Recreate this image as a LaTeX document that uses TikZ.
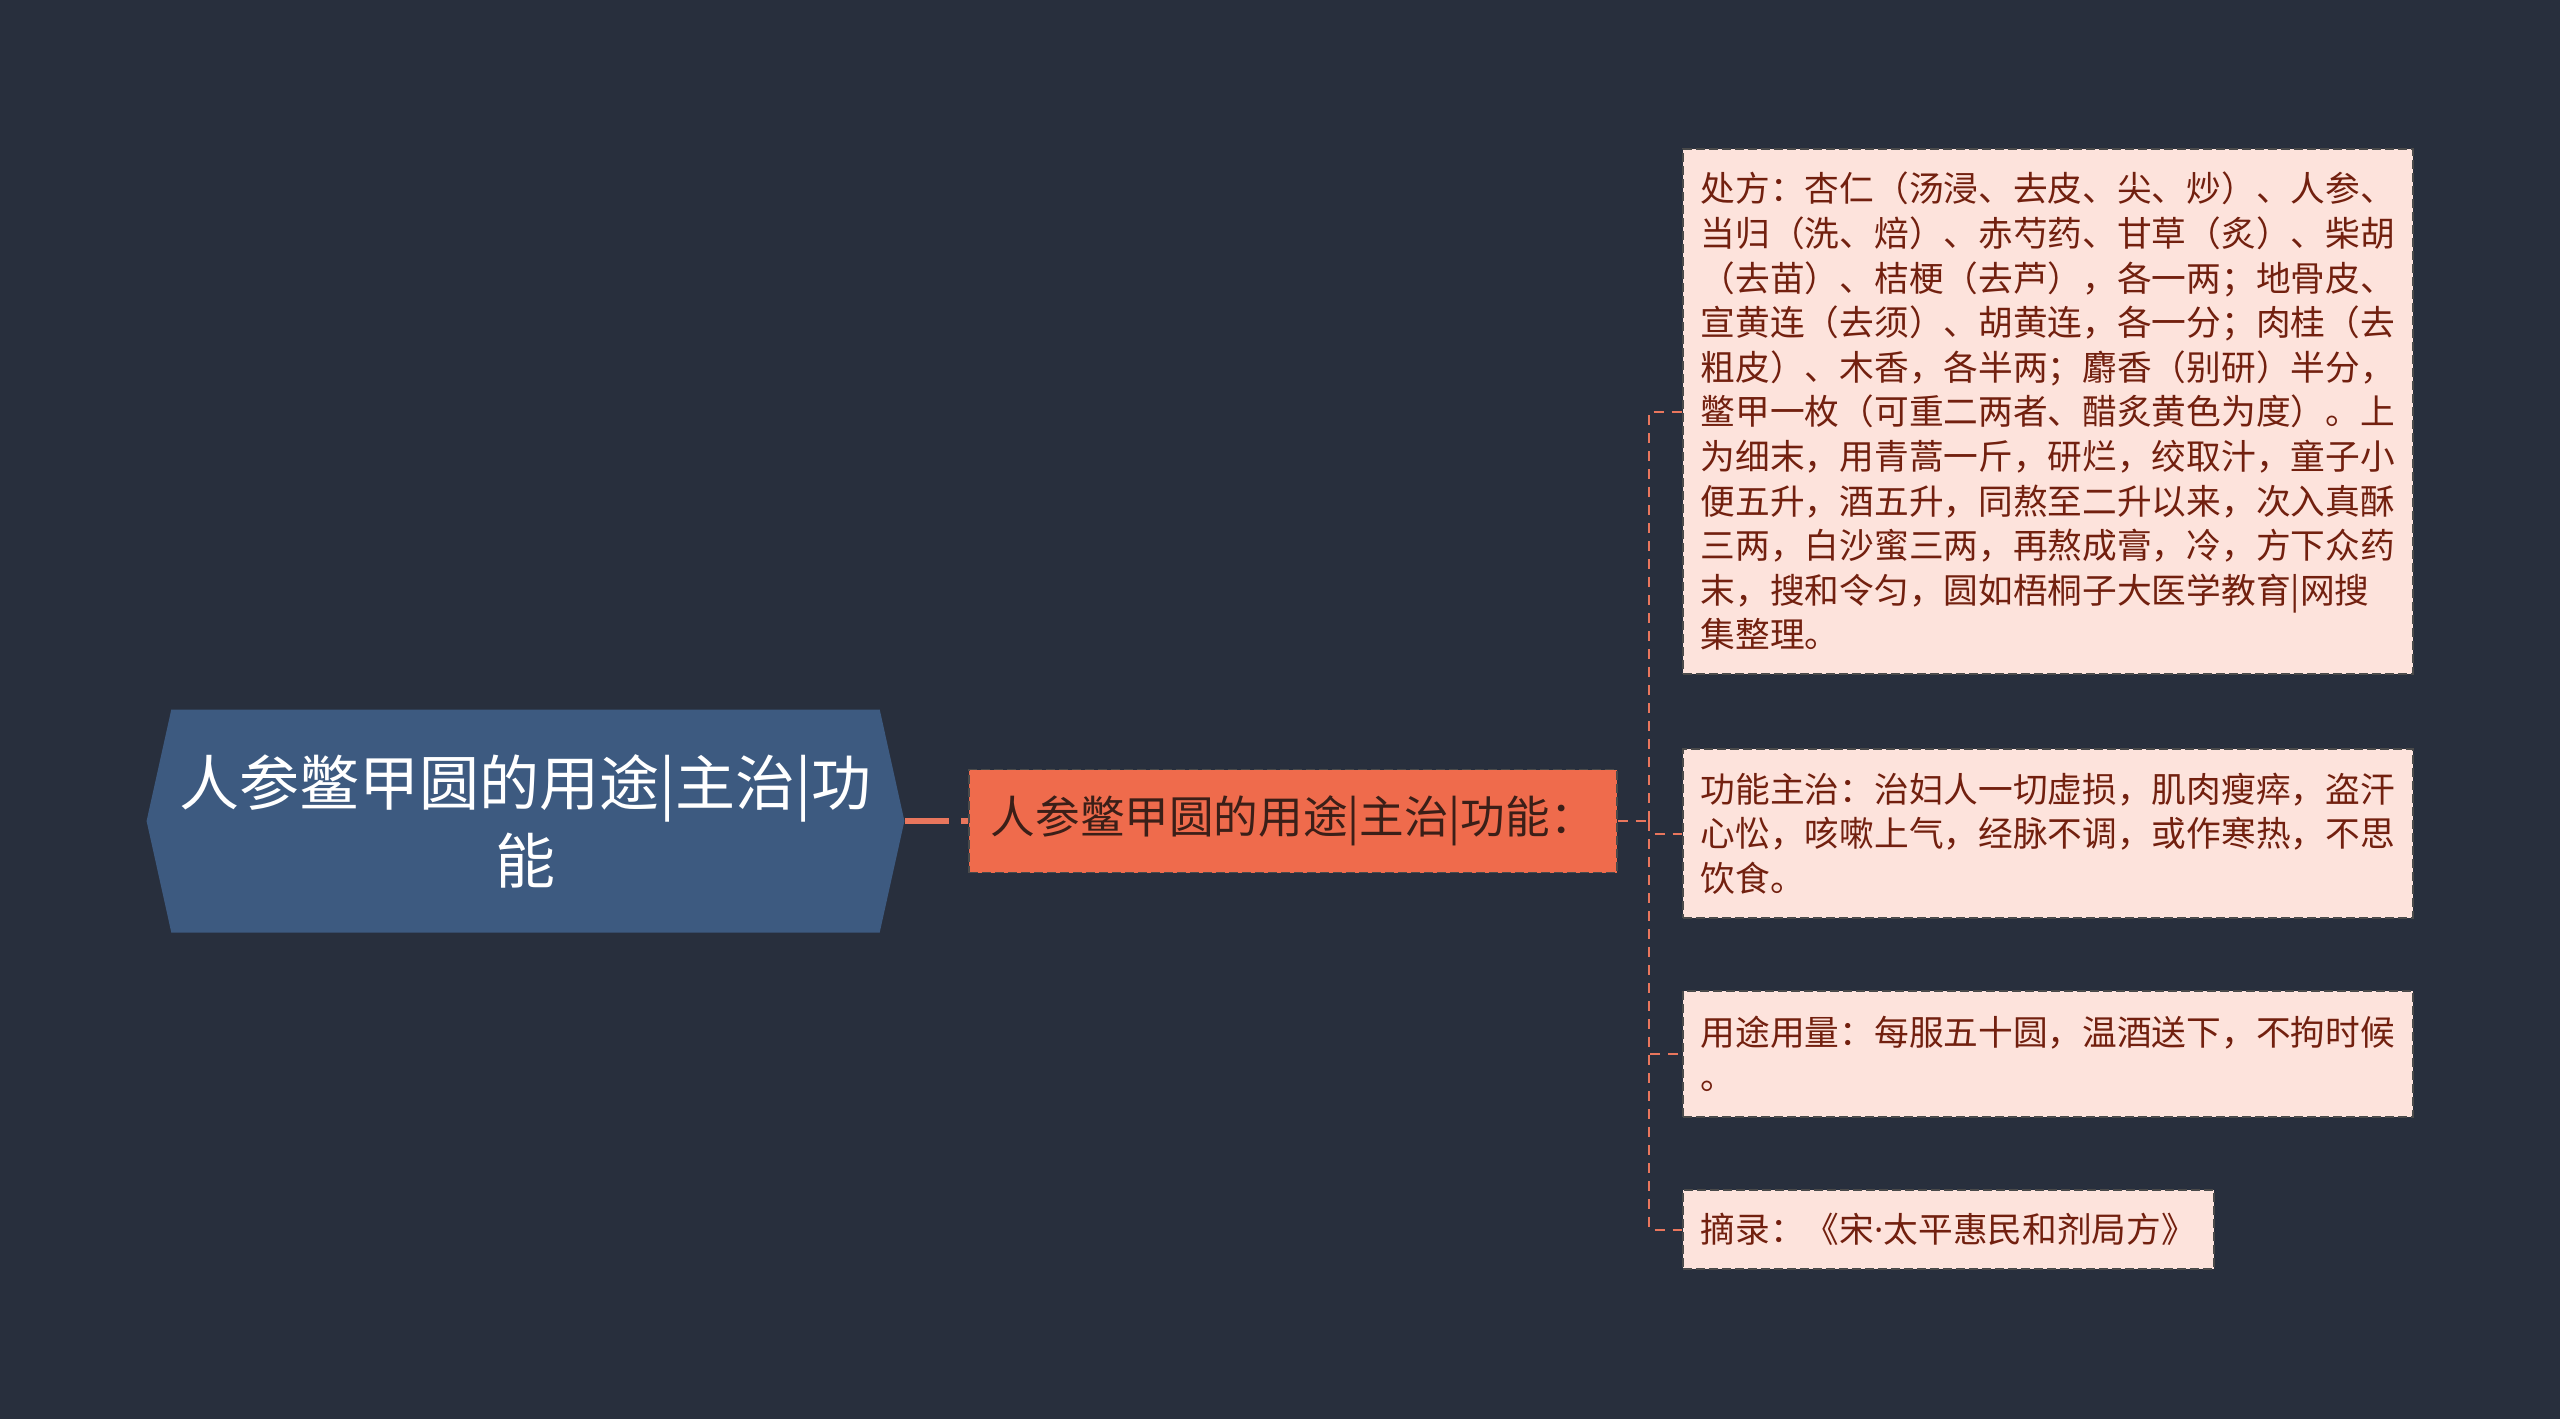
\documentclass[tikz,border=0pt]{standalone}
\usepackage{fontspec}
\setmainfont{Noto Sans CJK SC}
\newfontfamily\latinfont{Noto Sans}
\usetikzlibrary{positioning,shapes.symbols}
\definecolor{bgnavy}{HTML}{282F3D}
\definecolor{rootblue}{HTML}{3D5A80}
\definecolor{branchorange}{HTML}{EF6B4C}
\definecolor{branchtext}{HTML}{3B1F18}
\definecolor{leafpink}{HTML}{FDE3DC}
\definecolor{leafred}{HTML}{72200F}
\definecolor{linkorange}{HTML}{E9765D}
\definecolor{edgegray}{HTML}{4A4A4A}

\begin{document}
\begin{tikzpicture}[x=0.5pt,y=-0.5pt,
  topic/.style={signal, signal to=west and east, signal pointer angle=155,
    fill=rootblue, text=white, align=center, inner xsep=4pt, inner ysep=0pt,
    font=\fontsize{30}{39}\selectfont, minimum height=111.5pt},
  branchbox/.style={rectangle, fill=branchorange, draw=edgegray, line width=0.8pt,
    dash pattern=on 4.5pt off 2pt, text=branchtext,
    font=\fontsize{22.3}{28}\selectfont, minimum width=324pt, minimum height=51.5pt},
  leaf/.style={rectangle, fill=leafpink, draw=edgegray, line width=0.8pt,
    dash pattern=on 4.5pt off 2pt, text=leafred, align=left, text width=347pt,
    inner xsep=9pt, inner ysep=0pt, font=\fontsize{17.35}{22.3}\selectfont, anchor=west},
  twig/.style={draw=linkorange, line width=1pt, dash pattern=on 5pt off 4pt},
  trunklink/.style={draw=linkorange, line width=3pt, dash pattern=on 22pt off 6pt}]
\fill[bgnavy] (0,0) rectangle (2560,1419);
\useasboundingbox (0,0) rectangle (2560,1419);

\node[topic] (root) at (525.5,821) {人参鳖甲圆的用途|主治|功\\能};
\node[branchbox, anchor=west] (branch) at (968,821) {人参鳖甲圆的用途|主治|功能：};

\node[leaf, minimum height=262.5pt] (recipe) at (1682,411.5) {处方：杏仁（汤浸、去皮、尖、炒）、人参、\\当归（洗、焙）、赤芍药、甘草（炙）、柴胡\\（去苗）、桔梗（去芦），各一两；地骨皮、\\宣黄连（去须）、胡黄连，各一分；肉桂（去\\粗皮）、木香，各半两；麝香（别研）半分，\\鳖甲一枚（可重二两者、醋炙黄色为度）。上\\为细末，用青蒿一斤，研烂，绞取汁，童子小\\便五升，酒五升，同熬至二升以来，次入真酥\\三两，白沙蜜三两，再熬成膏，冷，方下众药\\末，搜和令匀，圆如梧桐子大医学教育|网搜\\集整理。};
\node[leaf, minimum height=84.5pt] (indication) at (1682,833.5) {功能主治：治妇人一切虚损，肌肉瘦瘁，盗汗\\心忪，咳嗽上气，经脉不调，或作寒热，不思\\饮食。};
\node[leaf, minimum height=63pt] (dosage) at (1682,1054) {用途用量：每服五十圆，温酒送下，不拘时候\\。};
\node[leaf, text width=, minimum width=264.5pt, minimum height=39.5pt] (source) at (1682,1229.5) {摘录：《宋{\latinfont ·}太平惠民和剂局方》};

\coordinate (trunk) at (1649,821);
\draw[trunklink] (root.east) -- (branch.west);
\draw[twig] (branch.east) -- (trunk);
\foreach \leafname in {recipe,indication,dosage,source}
  \draw[twig] (trunk) |- (\leafname.west);
\end{tikzpicture}
\end{document}
